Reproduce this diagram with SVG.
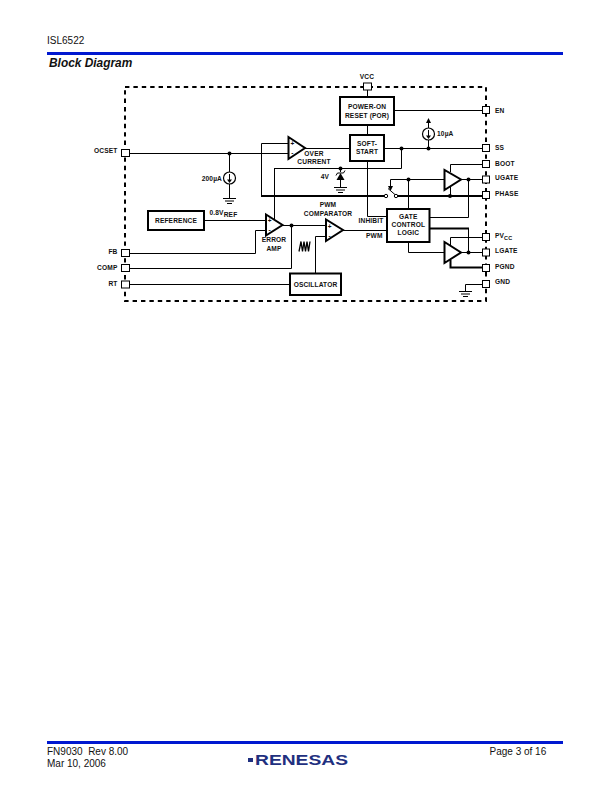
<svg xmlns="http://www.w3.org/2000/svg" width="612" height="792" viewBox="0 0 612 792">
<style>
text{font-family:"Liberation Sans",Arial,sans-serif;fill:#111}
.l{font-size:6.6px;font-weight:bold;letter-spacing:.15px}
.m{text-anchor:middle}
.r{text-anchor:end}
.f{font-size:10px}
.w{fill:none;stroke:#000;stroke-width:1}
.t{fill:none;stroke:#000;stroke-width:2}
.box{fill:#fff;stroke:#000;stroke-width:2}
.pin{fill:#fff;stroke:#000;stroke-width:1}
.amp{fill:#fff;stroke:#000;stroke-width:2;stroke-linejoin:miter}
.d{fill:#000}
.sw{fill:#fff;stroke:#000;stroke-width:1}
.frame{fill:none;stroke:#000;stroke-width:2;stroke-dasharray:4.4 4}
.blue{fill:#0018d0}
.ps{font-size:6.5px;font-weight:bold}
</style>
<defs>
<g id="gnd"><path class="w" d="M-6.500 .5H6.500M-4.500 3H4.500M-2.500 5.500H2.500"/></g>
<circle id="dot" r="2" class="d"/>
</defs>
<rect fill="#fff" width="612" height="792"/>
<g id="header">
<text class="f" x="47" y="44">ISL6522</text>
<rect class="blue" x="47" y="52" width="516" height="3"/>
<text x="49" y="67" font-size="11.900" font-weight="bold" font-style="italic">Block Diagram</text>
</g>
<path id="frame" class="frame" d="M125 87H486V301H125Z"/>
<g id="connectors">
<path class="w" d="M129 153.500H288M229.500 153V172M229.500 184V198M261.500 143.500H288M261.500 143.500V196M274.500 168.500H401.500V148M384 148.500H482M428.500 148V140M428.500 128V122M367.500 89V97M367.500 125V135M367.500 161V216.500H387M394 110.500H482"/>
<path class="w" d="M305 148.500H350M340.500 168V172M340.500 180V187"/>
<path class="t" d="M261 196H385M396.500 196H482"/>
<path class="w" d="M274.500 168V220M204 220.500H266M129 253.500H255.500V230.500H266M129 268.500H291.500V225M283 225.500H326M129 284.500H290M326 236.500H315.500V273"/>
<path class="w" d="M343 230.500H387"/>
<path class="w" d="M390.500 179.500H444M408.500 179.500V209M390.500 179.500V186M461 179.500H482M468.500 179.500V217.500H429M450.500 172V164.500H482M450.500 187V196"/>
<path class="d" d="M388 186H393L390.500 191Z"/>
<path class="w" d="M388 188.500L395.500 195"/>
<path class="t" d="M429 228.500H469"/>
<path class="w" d="M468.500 228.500V252.500M408.500 242V252.500H444M461 252.500H482M450.500 245V237.500H482"/>
<path class="t" d="M450.500 260V267.500H482"/>
<path class="w" d="M482 284.500H465.500V291"/>
<path class="d" d="M426 123L428.500 118L431 123Z"/>
<use href="#dot" x="229.500" y="153.500"/>
<use href="#dot" x="401.500" y="148.500"/>
<use href="#dot" x="428.500" y="148.500"/>
<use href="#dot" x="340.500" y="168.500"/>
<use href="#dot" x="408.500" y="179.500"/>
<use href="#dot" x="468.500" y="179.500"/>
<use href="#dot" x="450" y="196"/>
<use href="#dot" x="291.500" y="225.500"/>
<use href="#dot" x="468.500" y="252.500"/>
<circle class="sw" cx="386" cy="196" r="1.700"/>
<circle class="sw" cx="396" cy="196" r="1.700"/>
</g>
<g id="ocset"><rect class="pin" x="121.500" y="149.500" width="8" height="7"/><text class="l r" x="117.500" y="153">OCSET</text></g>
<g id="fb"><rect class="pin" x="121.500" y="249.500" width="8" height="7"/><text class="l r" x="117.500" y="254">FB</text></g>
<g id="comp"><rect class="pin" x="121.500" y="264.500" width="8" height="7"/><text class="l r" x="117.500" y="270">COMP</text></g>
<g id="rt"><rect class="pin" x="121.500" y="281" width="8" height="7"/><text class="l r" x="117.500" y="286">RT</text></g>
<g id="vcc"><rect class="pin" x="363.500" y="83" width="8" height="7"/><text class="l m" x="367" y="79">VCC</text></g>
<g id="en"><rect class="pin" x="482.500" y="106.500" width="7" height="7"/><text class="l" x="495" y="112.500">EN</text></g>
<g id="ss"><rect class="pin" x="482.500" y="144.500" width="7" height="7"/><text class="l" x="495" y="150">SS</text></g>
<g id="boot"><rect class="pin" x="482.500" y="160.500" width="7" height="7"/><text class="l" x="495" y="166">BOOT</text></g>
<g id="ugate"><rect class="pin" x="482.500" y="176" width="7" height="7"/><text class="l" x="495" y="180">UGATE</text></g>
<g id="phase"><rect class="pin" x="482.500" y="191.500" width="7" height="7"/><text class="l" x="495" y="196">PHASE</text></g>
<g id="pvcc"><rect class="pin" x="482.500" y="233.500" width="7" height="7"/><text class="l" x="495" y="238">PV<tspan font-size="5.500" dy="1.800">CC</tspan></text></g>
<g id="lgate"><rect class="pin" x="482.500" y="249" width="7" height="7"/><text class="l" x="495" y="253">LGATE</text></g>
<g id="pgnd"><rect class="pin" x="482.500" y="264.500" width="7" height="7"/><text class="l" x="495" y="269">PGND</text></g>
<g id="gnd-pin"><rect class="pin" x="482.500" y="280.500" width="7" height="7"/><text class="l" x="495" y="284">GND</text></g>
<use href="#gnd" x="465.500" y="291"/>
<g id="por"><rect class="box" x="340" y="97" width="54" height="28"/><text class="l m" x="367" y="109">POWER-ON</text><text class="l m" x="367" y="118">RESET (POR)</text></g>
<g id="softstart"><rect class="box" x="350" y="135" width="34" height="26"/><text class="l m" x="367" y="146">SOFT-</text><text class="l m" x="367" y="154">START</text></g>
<g id="reference"><rect class="box" x="148" y="211" width="56" height="19"/><text class="l m" x="176" y="223">REFERENCE</text></g>
<g id="oscillator"><rect class="box" x="290" y="273.500" width="51" height="21.500"/><text class="l m" x="315.500" y="286.500">OSCILLATOR</text></g>
<g id="gate"><rect class="box" x="387" y="209" width="42.500" height="33"/><text class="l m" x="408.300" y="219">GATE</text><text class="l m" x="408.300" y="227">CONTROL</text><text class="l m" x="408.300" y="235">LOGIC</text></g>
<g id="overcurrent"><path class="amp" d="M288.500 137V159L305 148Z"/><text x="292.300" y="145.500" class="ps m">+</text><text x="292.300" y="155" class="ps m">-</text><text class="l m" x="314" y="156">OVER</text><text class="l m" x="314" y="164">CURRENT</text></g>
<g id="erroramp"><path class="amp" d="M266 214.500V235.500L282.500 225Z"/><text x="269.700" y="223" class="ps m">+</text><text x="269.700" y="232" class="ps m">-</text><text class="l m" x="274" y="242">ERROR</text><text class="l m" x="274" y="251">AMP</text></g>
<g id="comparator"><path class="amp" d="M326 219.500V241L343 230Z"/><text x="329.700" y="228.500" class="ps m">+</text><text x="329.700" y="238" class="ps m">-</text><text class="l m" x="328" y="207">PWM</text><text class="l m" x="328" y="216">COMPARATOR</text></g>
<g id="driver-upper"><path class="amp" d="M444.500 170V190L461 179.500Z"/></g>
<g id="driver-lower"><path class="amp" d="M444.500 242V263L461 252.500Z"/></g>
<g id="src200"><circle cx="229.500" cy="178" r="6" fill="#fff" stroke="#000" stroke-width="1.200"/><path class="w" d="M229.500 174V181"/><path class="d" d="M227 179.500H232L229.500 183Z"/><text class="l r" x="222" y="180.500">200µA</text><use href="#gnd" x="229.500" y="198"/></g>
<g id="src10"><circle cx="428.500" cy="134" r="6" fill="#fff" stroke="#000" stroke-width="1.200"/><path class="w" d="M428.500 130V137"/><path class="d" d="M426 135.500H431L428.500 139Z"/><text class="l" x="437" y="136">10µA</text></g>
<g id="zener"><path class="d" d="M340.500 173L336.500 180H344.500Z"/><path class="w" d="M336 175.500L337.500 173H343.500L345 170.500"/><use href="#gnd" x="340.500" y="187"/><text class="l r" x="329" y="179">4V</text></g>
<g id="labels"><text class="l" x="209.500" y="214.500">0.8V<tspan font-size="6.600" dy="2">REF</tspan></text><text class="l" x="358.500" y="222.500">INHIBIT</text><text class="l" x="366" y="238">PWM</text></g>
<path id="sawtooth" fill="none" stroke="#000" stroke-width="1.300" d="M299 251.500L301 241.500L302.500 251.500L304 241.500L305.500 251.500L307 241.500L308.500 251.500L310 241.500"/>
<g id="footer">
<rect class="blue" x="47" y="741" width="516" height="3"/>
<text class="f" x="47" y="755" xml:space="preserve">FN9030  Rev 8.00</text>
<text class="f" x="47" y="767">Mar 10, 2006</text>
<text class="f" x="489.500" y="755">Page 3 of 16</text>
<rect x="248" y="758" width="5" height="4" fill="#1f3080"/>
<text x="255" y="765" font-size="15.500" font-weight="bold" textLength="93" lengthAdjust="spacingAndGlyphs" style="fill:#1f3080">RENESAS</text>
</g>
</svg>
